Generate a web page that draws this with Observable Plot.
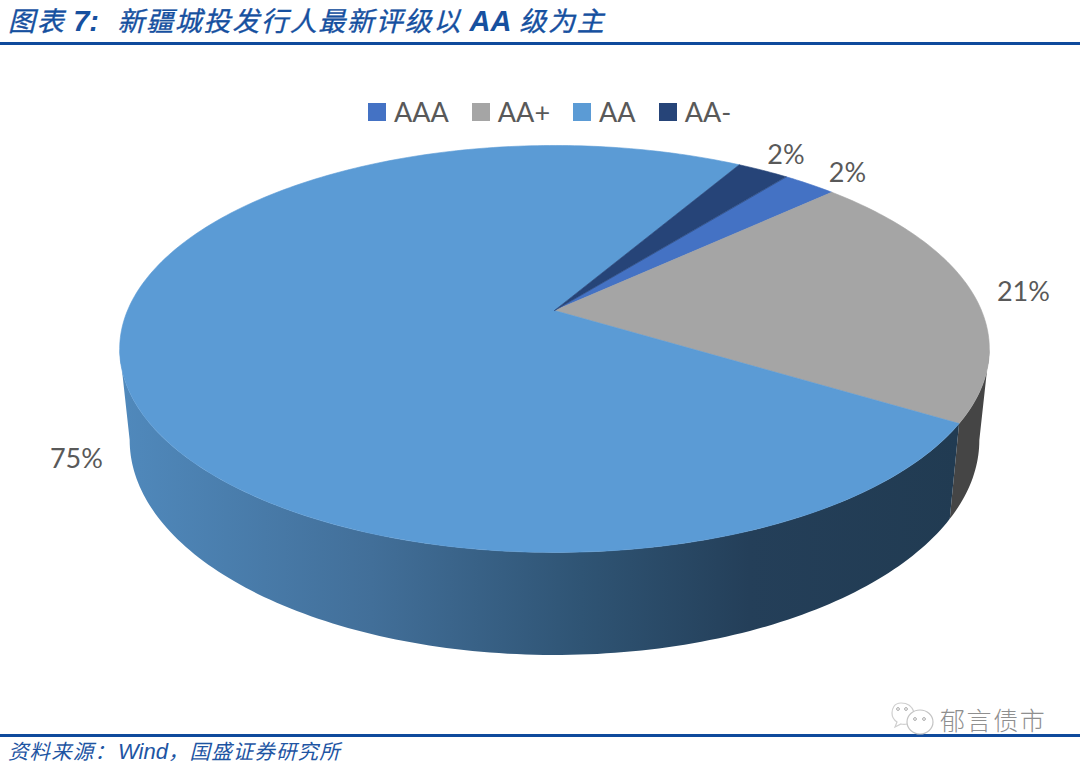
<!DOCTYPE html>
<html lang="zh">
<head>
<meta charset="utf-8">
<script src="https://cdn.jsdelivr.net/npm/d3@7"></script>
<script src="https://cdn.jsdelivr.net/npm/@observablehq/plot@0.6"></script>
<style>
  html, body { margin: 0; padding: 0; background: #fff; }
  #page { position: relative; width: 1080px; height: 768px; overflow: hidden; }
  #title { height: 42px; border-bottom: 3px solid #0f4a9c; box-sizing: content-box; color: #16509f;
    font: italic 400 27px/39px "Noto Sans CJK SC", sans-serif; letter-spacing: 1.7px; -webkit-text-stroke: 0.35px #16509f; padding-left: 8px; white-space: pre; overflow: hidden; }
  #title b { font: italic 700 29px/39px "Liberation Sans", sans-serif; -webkit-text-stroke: 0; letter-spacing: 0; }
  #title b.n { margin-right: 3px; }
  #chart svg { display: block; }
  #footer { border-top: 3px solid #0f4a9c; color: #1e55a3; padding-left: 8px; white-space: pre; margin-top: -1px;
    font: italic 400 20.5px/26px "Noto Sans CJK SC", sans-serif; letter-spacing: 1.1px; }
  #footer i { font: italic 400 22px/26px "Liberation Sans", sans-serif; letter-spacing: 0; margin-left: 2px; }
  #legend { position: absolute; left: 368px; top: 95px; display: flex; align-items: center;
    font: 27px/34px Lato, sans-serif; color: #595959; }
  #legend span.sw { display: inline-block; width: 18px; height: 18px; margin-right: 8px; }
  #legend span.lb { margin-right: 23px; }
  #mark { position: absolute; left: 940px; top: 701px; font: 300 25px/36px "Noto Sans CJK SC", sans-serif; color: #8f8f8f; letter-spacing: 1.6px; }
  #icon { position: absolute; left: 888px; top: 700px; }
</style>
</head>
<body>
<div id="page">
  <div id="title">图表 <b class="n">7:</b>  新疆城投发行人最新评级以 <b>AA</b> 级为主</div>
  <div id="chart"></div>
  <div id="footer">资料来源：<i>Wind</i>，国盛证券研究所</div>
  <div id="legend"></div>
  <svg id="icon" width="50" height="38" viewBox="0 0 50 38">
    <path d="M13 3C6 3 4 9 4 13c0 4 2 7 5 9l-2 5 6-3c2 .5 4 .5 6 0" fill="#fff" stroke="#cfcfcf" stroke-width="1.2"/>
    <path d="M13 3c6 0 11 3 13 9" fill="none" stroke="#cfcfcf" stroke-width="1.2"/>
    <ellipse cx="32" cy="22" rx="13" ry="12" fill="#fff" stroke="#c4c4c4" stroke-width="1.2"/>
    <circle cx="10" cy="9" r="1.4" fill="none" stroke="#aaa"/><circle cx="18" cy="9" r="1.4" fill="none" stroke="#aaa"/>
    <circle cx="27" cy="19" r="1.4" fill="none" stroke="#aaa"/><circle cx="36" cy="19" r="1.4" fill="none" stroke="#aaa"/>
  </svg>
  <div id="mark">郁言债市</div>
</div>
<script>
// ---- data ----
const ratings = ["AAA", "AA+", "AA", "AA-"];
const shares = [2.4, 20.6, 74.7, 2.3];
const labels = ["2%", "21%", "75%", "2%"];
const colors = ["#4472c4", "#a5a5a5", "#5b9bd5", "#264478"];
const wallColors = ["#4472c4", "#454545", "url(#wallAA)", "#264478"];
const labelDx = [38, 52, -44, 23];
const labelDy = [-11, 1, 98, -15];

// ---- 3D view of the pie: a perspective disc with a lower rim ----
const startAngle = 38.5;   // degrees clockwise from the top
const tilt = 0.189;        // perspective strength
const lowerScaleX = 0.977, lowerScaleY = 1.056, lowerDrop = 0.4536;
const rad = d => d * Math.PI / 180;
const project = (deg, lower) => {
  const X = Math.sin(rad(deg)), Y = -Math.cos(rad(deg)), w = 1 - tilt * Y;
  return lower
    ? {x: X / w * lowerScaleX, y: Y / w * lowerScaleY + lowerDrop}
    : {x: X / w, y: Y / w};
};
const arc = (a, b, lower) => {
  const n = Math.max(2, Math.ceil(Math.abs(b - a)));
  return d3.range(n + 1).map(i => project(a + (b - a) * i / n, lower));
};

// Slice angles follow the shares
const total = d3.sum(shares);
let acc = startAngle;
const slices = ratings.map((rating, i) => {
  const a0 = acc, a1 = acc + shares[i] / total * 360;
  acc = a1;
  return {rating, a0, a1, i};
});

const topRows = slices.flatMap(s => [{x: 0, y: 0}, ...arc(s.a0, s.a1, false)].map(p => ({...p, rating: s.rating})));

// Only the near side of the wall is visible, between the two rim tangents
const tangentA = 180 - Math.acos(tilt) * 180 / Math.PI;
const tangentB = 360 - tangentA;
const wallMarks = slices.flatMap(s => {
  const a = Math.max(s.a0, tangentA), b = Math.min(s.a1, tangentB);
  if (b <= a) return [];
  const poly = [...arc(a, b, false), ...arc(b, a, true)];
  return [Plot.line(poly, {x: "x", y: "y", fill: wallColors[s.i], stroke: "none", curve: "linear-closed"})];
});

const labelMarks = slices.map(s => {
  const p = project((s.a0 + s.a1) / 2, false);
  return Plot.text([{...p, t: labels[s.i]}], {
    x: "x", y: "y", text: "t", dx: labelDx[s.i], dy: labelDy[s.i],
    fontSize: 27, fontFamily: "Lato, sans-serif", fill: "#595959", textAnchor: "middle"
  });
});

const gradient = () => {
  const svg = d3.create("svg:defs");
  const g = svg.append("linearGradient").attr("id", "wallAA");
  [[0, "#5089bc"], [0.3, "#426f99"], [0.55, "#2f5474"], [0.75, "#243f59"], [1, "#213b52"]]
    .forEach(([o, c]) => g.append("stop").attr("offset", o).attr("stop-color", c));
  return svg.node();
};

const plot = Plot.plot({
  width: 1080, height: 690,
  margin: 0,
  x: {domain: [-1, 1], range: [127, 981], axis: null},
  y: {domain: [-1, 1], range: [68.8, 461.2], axis: null},
  color: {domain: ratings, range: colors},
  marks: [
    gradient,
    ...wallMarks,
    Plot.line(topRows, {x: "x", y: "y", z: "rating", fill: "rating", stroke: "rating", strokeWidth: 0.6, curve: "linear-closed"}),
    ...labelMarks
  ]
});
document.getElementById("chart").append(plot);

const legend = d3.select("#legend");
ratings.forEach((r, i) => {
  legend.append("span").attr("class", "sw").style("background", colors[i]);
  legend.append("span").attr("class", "lb").text(r);
});
</script>
</body>
</html>
